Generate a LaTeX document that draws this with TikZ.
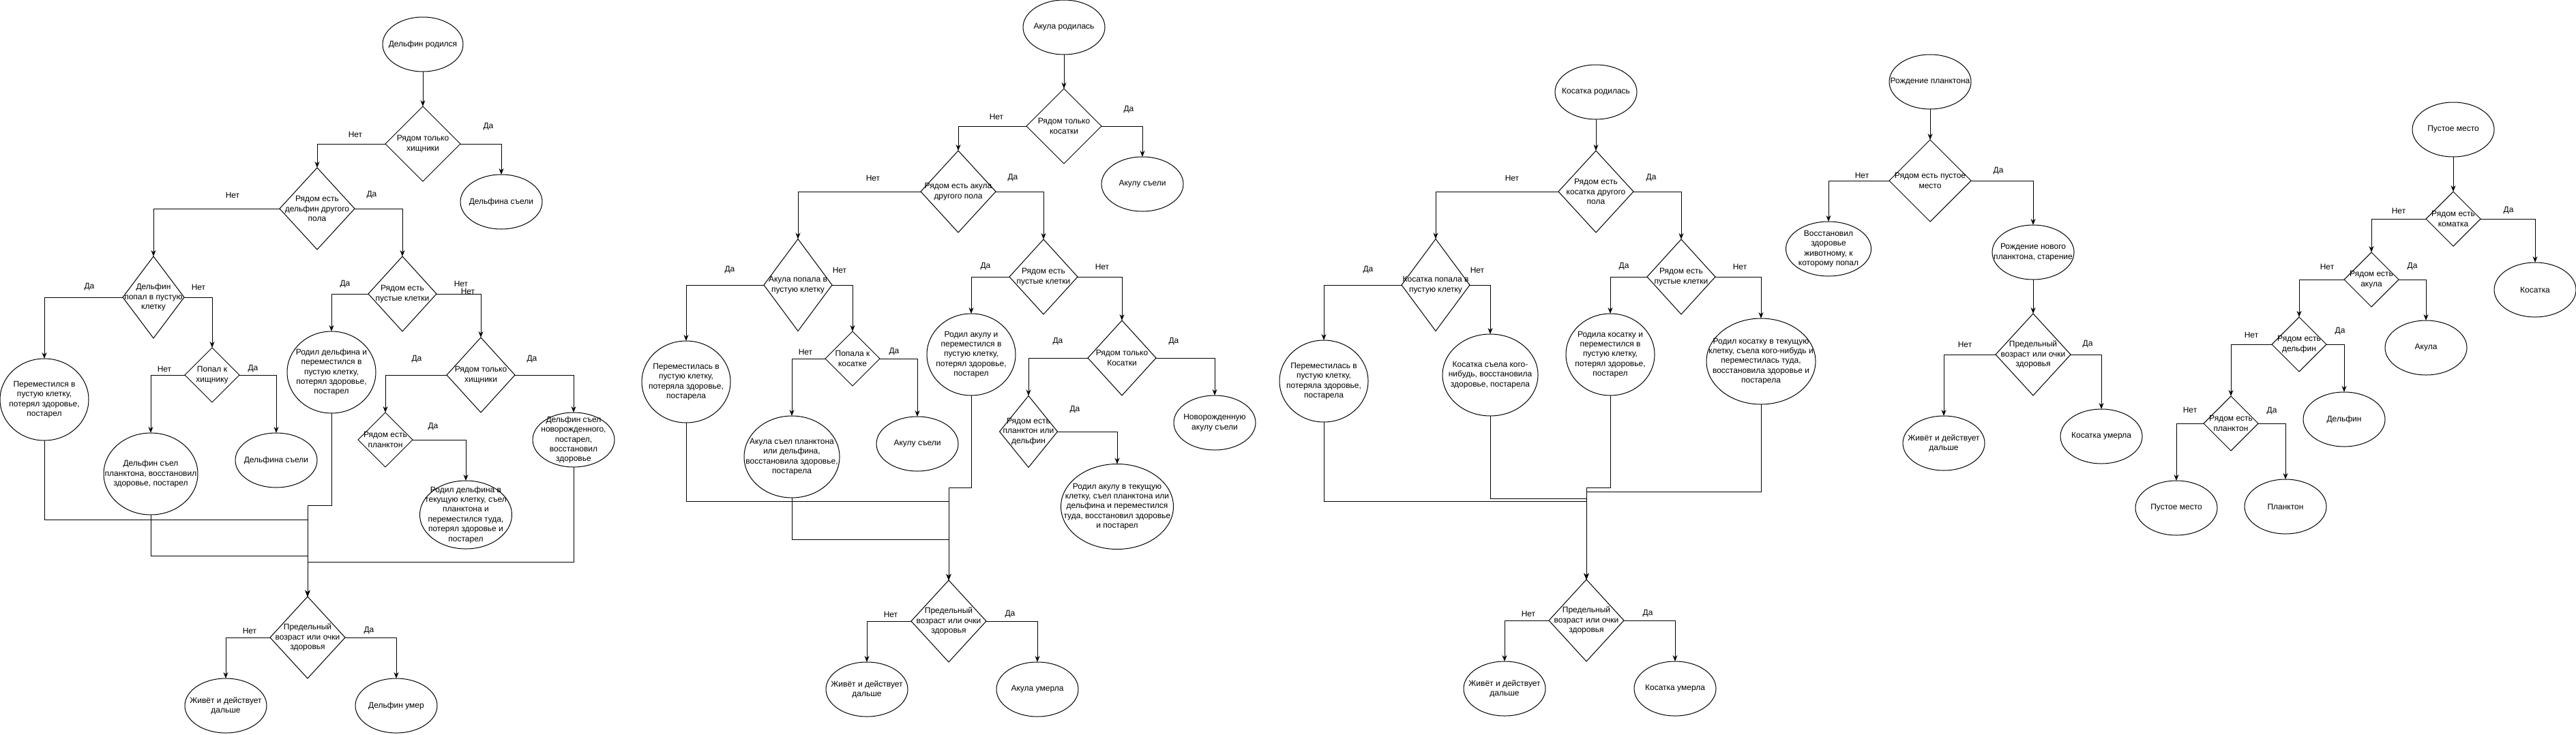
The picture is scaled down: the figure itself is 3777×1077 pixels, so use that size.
\documentclass[tikz,border=0pt]{standalone}
\usepackage{fontspec}
\setmainfont{Liberation Sans}
\usetikzlibrary{shapes.geometric, arrows.meta, calc}
\tikzset{
	base/.style={draw, line width=1pt, inner sep=0pt, outer sep=0pt, fill=white},
	oval/.style 2 args={base, ellipse, minimum width=#1pt, minimum height=#2pt},
	rhomb/.style 2 args={base, diamond, minimum width=#1pt, minimum height=#2pt},
	txt/.style={inner sep=0pt, align=center, font=\fontsize{12}{14.4}\selectfont},
	lbl/.style={txt},
	arr/.style={line width=1pt, -{Stealth[length=9pt, width=7pt]}}
}

\begin{document}
\begin{tikzpicture}[x=1pt, y=-1pt]

\fill[white] (0,0) rectangle (3777,1077);
\useasboundingbox (0,0) rectangle (3777,1077);

\node[oval={118}{80}, label={[txt]center:{Дельфин родился}}] (dBorn) at (620,65) {};
\node[rhomb={110}{110}, label={[txt]center:{Рядом только\\хищники}}] (dQ1) at (620,211) {};
\node[oval={120}{80}, label={[txt]center:{Дельфина съели}}] (dEaten1) at (735,296) {};
\node[rhomb={110}{120}, label={[txt]center:{Рядом есть\\дельфин другого\\пола}}] (dQ2) at (465,306) {};
\node[rhomb={90}{120}, label={[txt]center:{Дельфин\\попал в пустую\\клетку}}] (dQ3) at (225,436) {};
\node[rhomb={100}{110}, label={[txt]center:{Рядом есть\\пустые клетки}}] (dQ4) at (590,431) {};
\node[oval={130}{120}, label={[txt]center:{Переместился в\\пустую клетку,\\потерял здоровье,\\постарел}}] (dMove) at (65,586) {};
\node[rhomb={80}{80}, label={[txt]center:{Попал к\\хищнику}}] (dQ5) at (311,550) {};
\node[oval={138}{120}, label={[txt]center:{Дельфин съел\\планктона, восстановил\\здоровье, постарел}}] (dEat) at (221,695) {};
\node[oval={120}{80}, label={[txt]center:{Дельфина съели}}] (dEaten2) at (405,675) {};
\node[oval={130}{120}, label={[txt]center:{Родил дельфина и\\переместился в\\пустую клетку,\\потерял здоровье,\\постарел}}] (dBirth) at (486,546) {};
\node[rhomb={100}{110}, label={[txt]center:{Рядом только\\хищники}}] (dQ6) at (705,550) {};
\node[rhomb={80}{80}, label={[txt]center:{Рядом есть\\планктон}}] (dQ7) at (565,645) {};
\node[oval={135}{100}, label={[txt]center:{Родил дельфина в\\текущую клетку, съел\\планктона и\\переместился туда,\\потерял здоровье и\\постарел}}] (dBirth2) at (683,755) {};
\node[oval={120}{80}, label={[txt]center:{Дельфин съел\\новорожденного,\\постарел,\\восстановил\\здоровье}}] (dNew) at (841,645) {};

\node[oval={120}{80}, label={[txt]center:{Акула родилась}}] (aBorn) at (1560,40) {};
\node[rhomb={110}{110}, label={[txt]center:{Рядом только\\косатки}}] (aQ1) at (1560,185) {};
\node[oval={120}{80}, label={[txt]center:{Акулу съели}}] (aEaten1) at (1675,270) {};
\node[rhomb={110}{120}, label={[txt]center:{Рядом есть акула\\другого пола}}] (aQ2) at (1405,281) {};
\node[rhomb={100}{135}, label={[txt]center:{Акула попала в\\пустую клетку}}] (aQ3) at (1170,418) {};
\node[rhomb={100}{110}, label={[txt]center:{Рядом есть\\пустые клетки}}] (aQ4) at (1530,406) {};
\node[oval={130}{120}, label={[txt]center:{Переместилась в\\пустую клетку,\\потеряла здоровье,\\постарела}}] (aMove) at (1006,560) {};
\node[rhomb={80}{80}, label={[txt]center:{Попала к\\косатке}}] (aQ5) at (1250,526) {};
\node[oval={140}{120}, label={[txt]center:{Акула съел планктона\\или дельфина,\\восстановила здоровье,\\постарела}}] (aEat) at (1161,670) {};
\node[oval={120}{80}, label={[txt]center:{Акулу съели}}] (aEaten2) at (1345,651) {};
\node[oval={130}{120}, label={[txt]center:{Родил акулу и\\переместился в\\пустую клетку,\\потерял здоровье,\\постарел}}] (aBirth) at (1424,520) {};
\node[rhomb={100}{110}, label={[txt]center:{Рядом только\\Косатки}}] (aQ6) at (1645,525) {};
\node[rhomb={85}{105}, label={[txt]center:{Рядом есть\\планктон или\\дельфин}}] (aQ7) at (1508,633) {};
\node[oval={165}{125}, label={[txt]center:{Родил акулу в текущую\\клетку, съел планктона или\\дельфина и переместился\\туда, восстановил здоровье\\и постарел}}] (aBirth2) at (1638,743) {};
\node[oval={120}{80}, label={[txt]center:{Новорожденную\\акулу съели}}] (aNew) at (1781,620) {};

\node[oval={120}{80}, label={[txt]center:{Косатка родилась}}] (kBorn) at (2340,135) {};
\node[rhomb={110}{120}, label={[txt]center:{Рядом есть\\косатка другого\\пола}}] (kQ1) at (2340,281) {};
\node[rhomb={100}{135}, label={[txt]center:{Косатка попала в\\пустую клетку}}] (kQ2) at (2105,418) {};
\node[rhomb={100}{110}, label={[txt]center:{Рядом есть\\пустые клетки}}] (kQ3) at (2465,406) {};
\node[oval={130}{120}, label={[txt]center:{Переместилась в\\пустую клетку,\\потеряла здоровье,\\постарела}}] (kMove) at (1941,559) {};
\node[oval={140}{120}, label={[txt]center:{Косатка съела кого-\\нибудь, восстановила\\здоровье, постарела}}] (kEat) at (2185,550) {};
\node[oval={130}{120}, label={[txt]center:{Родила косатку и\\переместился в\\пустую клетку,\\потерял здоровье,\\постарел}}] (kBirth) at (2361,520) {};
\node[oval={160}{126}, label={[txt]center:{Родил косатку в текущую\\клетку, съела кого-нибудь и\\переместилась туда,\\восстановила здоровье и\\постарела}}] (kBirth2) at (2582,530) {};

\node[oval={120}{80}, label={[txt]center:{Рождение планктона}}] (pBorn) at (2830,120) {};
\node[rhomb={120}{120}, label={[txt]center:{Рядом есть пустое\\место}}] (pQ1) at (2830,265) {};
\node[oval={125}{80}, label={[txt]center:{Восстановил\\здоровье\\животному, к\\которому попал}}] (pHeal) at (2681,365) {};
\node[oval={120}{80}, label={[txt]center:{Рождение нового\\планктона, старение}}] (pNew) at (2981,370) {};
\node[rhomb={110}{120}, label={[txt]center:{Предельный\\возраст или очки\\здоровья}}] (pEnd) at (2981,520) {};
\node[oval={120}{80}, label={[txt]center:{Живёт и действует\\дальше}}] (pLive) at (2850,650) {};
\node[oval={120}{80}, label={[txt]center:{Косатка умерла}}] (pDead) at (3081,640) {};

\node[oval={120}{80}, label={[txt]center:{Пустое место}}] (eTop) at (3597,190) {};
\node[rhomb={80}{80}, label={[txt]center:{Рядом есть\\коматка}}] (eQ1) at (3597,321) {};
\node[oval={120}{80}, label={[txt]center:{Косатка}}] (eOrca) at (3717,425) {};
\node[rhomb={80}{80}, label={[txt]center:{Рядом есть\\акула}}] (eQ2) at (3477,410) {};
\node[oval={120}{80}, label={[txt]center:{Акула}}] (eShark) at (3557,510) {};
\node[rhomb={80}{80}, label={[txt]center:{Рядом есть\\дельфин}}] (eQ3) at (3371,505) {};
\node[oval={120}{80}, label={[txt]center:{Дельфин}}] (eDolph) at (3437,615) {};
\node[rhomb={80}{80}, label={[txt]center:{Рядом есть\\планктон}}] (eQ4) at (3271,621) {};
\node[oval={120}{80}, label={[txt]center:{Пустое место}}] (eEmpty) at (3191,745) {};
\node[oval={120}{80}, label={[txt]center:{Планктон}}] (ePlank) at (3351,743) {};

\foreach \k/\x/\y/\dead in {d/451/935/Дельфин умер, a/1391/911/Акула умерла, k/2326/910/Косатка умерла}{
	\node[rhomb={110}{120}, label={[txt]center:{Предельный\\возраст или очки\\здоровья}}] (end\k) at (\x,\y) {};
	\node[oval={120}{80}, label={[txt]center:{Живёт и действует\\дальше}}] (live\k) at ($(end\k)+(-120,100)$) {};
	\node[oval={120}{80}, label={[txt]center:\dead}] (dead\k) at ($(end\k)+(130,100)$) {};
	\draw[arr] (end\k.west) -| (live\k.north);
	\draw[arr] (end\k.east) -| (dead\k.north);
	\node[lbl] (no\k) at ($(end\k)+(-85,-10)$) {Нет};
	\node[lbl] (yes\k) at ($(end\k)+(90,-10)$) {Да};
}

\draw[arr] (dBorn) -- (dQ1);
\draw[arr] (dQ1.west) -| (dQ2.north);
\draw[arr] (dQ1.east) -| (dEaten1.north);
\draw[arr] (dQ2.west) -| (dQ3.north);
\draw[arr] (dQ2.east) -| (dQ4.north);
\draw[arr] (dQ3.west) -| (dMove.north);
\draw[arr] (dQ3.east) -| (dQ5.north);
\draw[arr] (dQ5.west) -| (dEat.north);
\draw[arr] (dQ5.east) -| (dEaten2.north);
\draw[arr] (dQ4.west) -| (dBirth.north);
\draw[arr] (dQ4.east) -| (dQ6.north);
\draw[arr] (dQ6.west) -| (dQ7.north);
\draw[arr] (dQ6.east) -| (dNew.north);
\draw[arr] (dQ7.east) -| (dBirth2.north);
\draw[arr] (dMove.south) -- ++(0,116) -| (endd.north);
\draw[arr] (dEat.south) -- ++(0,60) -| (endd.north);
\draw[arr] (dBirth.south) -- ++(0,135) -| (endd.north);
\draw[arr] (dNew.south) -- ++(0,139) -| (endd.north);

\draw[arr] (aBorn) -- (aQ1);
\draw[arr] (aQ1.west) -| (aQ2.north);
\draw[arr] (aQ1.east) -| (aEaten1.north);
\draw[arr] (aQ2.west) -| (aQ3.north);
\draw[arr] (aQ2.east) -| (aQ4.north);
\draw[arr] (aQ3.west) -| (aMove.north);
\draw[arr] (aQ3.east) -| (aQ5.north);
\draw[arr] (aQ5.west) -| (aEat.north);
\draw[arr] (aQ5.east) -| (aEaten2.north);
\draw[arr] (aQ4.west) -| (aBirth.north);
\draw[arr] (aQ4.east) -| (aQ6.north);
\draw[arr] (aQ6.west) -| (aQ7.north);
\draw[arr] (aQ6.east) -| (aNew.north);
\draw[arr] (aQ7.east) -| (aBirth2.north);
\draw[arr] (aMove.south) -- ++(0,115) -| (enda.north);
\draw[arr] (aEat.south) -- ++(0,61) -| (enda.north);
\draw[arr] (aBirth.south) -- ++(0,135) -| (enda.north);

\draw[arr] (kBorn) -- (kQ1);
\draw[arr] (kQ1.west) -| (kQ2.north);
\draw[arr] (kQ1.east) -| (kQ3.north);
\draw[arr] (kQ2.west) -| (kMove.north);
\draw[arr] (kQ2.east) -| (kEat.north);
\draw[arr] (kQ3.west) -| (kBirth.north);
\draw[arr] (kQ3.east) -| (kBirth2.north);
\draw[arr] (kMove.south) -- ++(0,116) -| (endk.north);
\draw[arr] (kEat.south) -- ++(0,121) -| (endk.north);
\draw[arr] (kBirth.south) -- ++(0,135) -| (endk.north);
\draw[arr] (kBirth2.south) -- ++(0,128) -| (endk.north);

\draw[arr] (pBorn) -- (pQ1);
\draw[arr] (pQ1.west) -| (pHeal.north);
\draw[arr] (pQ1.east) -| (pNew.north);
\draw[arr] (pNew) -- (pEnd);
\draw[arr] (pEnd.west) -| (pLive.north);
\draw[arr] (pEnd.east) -| (pDead.north);

\draw[arr] (eTop) -- (eQ1);
\draw[arr] (eQ1.west) -| (eQ2.north);
\draw[arr] (eQ1.east) -| (eOrca.north);
\draw[arr] (eQ2.west) -| (eQ3.north);
\draw[arr] (eQ2.east) -| (eShark.north);
\draw[arr] (eQ3.west) -| (eQ4.north);
\draw[arr] (eQ3.east) -| (eDolph.north);
\draw[arr] (eQ4.west) -| (eEmpty.north);
\draw[arr] (eQ4.east) -| (ePlank.north);

\foreach \x/\y/\t [count=\i] in {
	521/197/Нет, 716/186/Да, 341/286/Нет, 545/286/Да, 131/421/Да, 291/421/Нет,
	506/417/Да, 676/416/Нет, 686/427/Нет, 241/541/Нет, 371/541/Да, 611/527/Да,
	780/527/Да, 635/626/Да,
	1461/171/Нет, 1655/161/Да, 1280/261/Нет, 1485/261/Да, 1070/396/Да, 1231/396/Нет,
	1181/516/Нет, 1311/516/Да, 1445/391/Да, 1616/391/Нет, 1551/501/Да, 1721/501/Да,
	1576/601/Да,
	2217/261/Нет, 2421/261/Да, 2006/396/Да, 2166/396/Нет, 2381/391/Да, 2551/391/Нет,
	2730/257/Нет, 2930/251/Да, 2881/505/Нет, 3061/505/Да,
	3517/309/Нет, 3678/309/Да, 3412/391/Нет, 3537/391/Да, 3301/491/Нет, 3431/486/Да,
	3211/601/Нет, 3331/603/Да}
	\node[lbl] (lab\i) at (\x,\y) {\t};

\end{tikzpicture}
\end{document}
